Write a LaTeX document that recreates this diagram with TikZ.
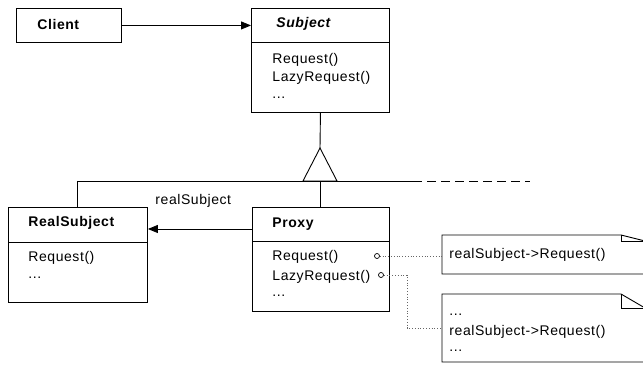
\documentclass[tikz,border=0pt]{standalone}
\usepackage{fontspec}
\setmainfont{Liberation Sans}[LetterSpace=4]
\usetikzlibrary{arrows.meta}
\begin{document}
\begin{tikzpicture}[x=1pt,y=-1pt,line width=0.9pt,
  box/.style={draw, anchor=north west, inner sep=0pt},
  txt/.style={anchor=base west, inner sep=0pt, font=\fontsize{14}{16}\selectfont},
  ttl/.style={txt, font=\fontsize{14}{16}\selectfont\bfseries},
  arr/.style={-{Triangle[length=10pt,width=8pt]}},
  dots/.style={dotted, line width=0.8pt, gray!80!black},
  circ/.style={circle, draw, inner sep=0pt, minimum size=5pt, line width=0.7pt, fill=white}]
\useasboundingbox (0,0) rectangle (643,366);
\clip (0,0) rectangle (643,366);
% boxes
\node[box, minimum width=105pt, minimum height=34pt] (client) at (16,8) {};
\node[box, minimum width=138pt, minimum height=104pt] (subject) at (251,8) {};
\node[box, minimum width=139pt, minimum height=95pt] (realsubject) at (8,207) {};
\node[box, minimum width=137pt, minimum height=104pt] (proxy) at (252,207) {};
\draw (251,42) -- (389,42);
\draw (8,242) -- (147,242);
\draw (252,241) -- (389,241);
% texts
\node[ttl] (tclient) at (37,30) {Client};
\node[ttl, font=\fontsize{14}{16}\selectfont\bfseries\itshape] (tsubject) at (276,28) {Subject};
\node[txt] (s1) at (272,63.3) {Request()};
\node[txt] (s2) at (272,81.7) {LazyRequest()};
\node[txt] (s3) at (272,98.3) {...};
\node[ttl] (treal) at (28,226.7) {RealSubject};
\node[txt] (r1) at (28,262) {Request()};
\node[txt] (r2) at (28,279) {...};
\node[ttl] (tproxy) at (272,228) {Proxy};
\node[txt] (p1) at (272,260.7) {Request()};
\node[txt] (p2) at (272,280) {LazyRequest()};
\node[txt] (p3) at (272,297) {...};
\node[txt] (lbl) at (155,205) {realSubject};
% client -> subject
\draw[arr] (client.east) -- (subject.west |- client.east);
% generalization
\coordinate (apex) at (320,148);
\coordinate (bl) at (303,181);
\coordinate (br) at (337,181);
\coordinate (hl) at (77,181);
\coordinate (hm) at (413,181);
\coordinate (hr) at (530,181);
\draw (subject.south) -- (apex);
\draw (apex) -- (bl) -- (br) -- cycle;
\draw (hl) -- (hm);
\draw[dashed, dash pattern=on 9pt off 5pt] (hm) -- (hr);
\draw (hl) -- (realsubject.north -| hl);
\draw (proxy.north -| apex) -- (apex |- hl);
% proxy -> realsubject
\coordinate (pa) at (252,229);
\draw[arr] (pa) -- (realsubject.east |- pa);
% notes
\draw (442,235) -- (621,235) -- (645,241) -- (645,274) -- (442,274) -- cycle;
\draw (621,235) -- (621,241) -- (645,241);
\draw (442,294) -- (621,294) -- (645,308) -- (645,362) -- (442,362) -- cycle;
\draw (621,294) -- (621,308) -- (645,308);
\coordinate (n1) at (442,256);
\coordinate (n2) at (442,328);
\coordinate (bend) at (407,275);
\node[txt] (nt1) at (449,258.3) {realSubject->Request()};
\node[txt] (nt2a) at (449,316) {...};
\node[txt] (nt2b) at (449,335) {realSubject->Request()};
\node[txt] (nt2c) at (449,351.7) {...};
% dotted links
\node[circ] (c1) at (377,256) {};
\node[circ] (c2) at (381,275) {};
\draw[dots] (c1.east) -- (n1);
\draw[dots] (c2.east) -- (bend) -- (bend |- n2) -- (n2);
\end{tikzpicture}
\end{document}
